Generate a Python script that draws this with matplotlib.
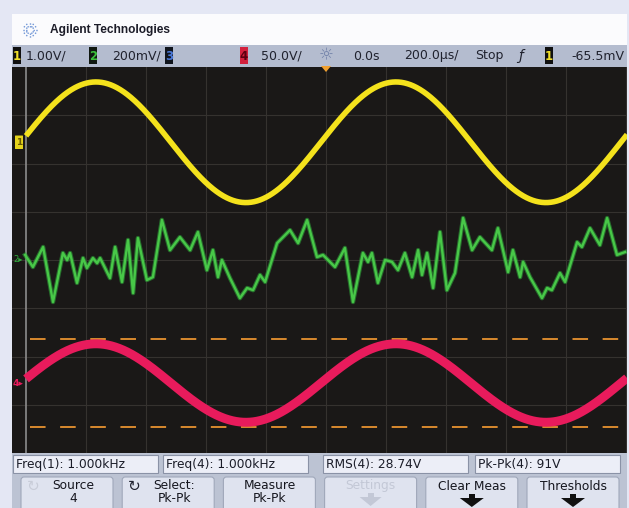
import numpy as np
import matplotlib
matplotlib.use("Agg")
import matplotlib.pyplot as plt
from matplotlib.patches import Rectangle, FancyBboxPatch, Polygon

W, H = 629, 508

# scope setup as shown on the status line
ch1_scale = 1.00        # V/div
ch2_scale = 0.200       # V/div
ch4_scale = 50.0        # V/div
time_scale = 0.2        # ms/div
trig_level_mv = -65.5

# measurements
freq_khz = [1.000, 1.000]     # Freq(1), Freq(4)
rms4 = 28.74                  # V
pkpk4 = 91.0                  # V

# channel 1 / 4 amplitude and vertical position (div)
ch1_amp = 1.25
ch1_pos = 2.44
ch4_pos = -2.55
ch2_pos = 0.02
t_zero = -0.017               # ms, rising zero crossing near trigger

# channel 2 trace (ms, mV)
ch2_t = [-1.003, -0.977, -0.943, -0.910, -0.877, -0.863, -0.853, -0.830, -0.810, -0.797,
         -0.777, -0.763, -0.753, -0.720, -0.703, -0.680, -0.660, -0.643, -0.627, -0.597,
         -0.577, -0.547, -0.520, -0.487, -0.453, -0.427, -0.397, -0.377, -0.360, -0.347,
         -0.320, -0.287, -0.263, -0.243, -0.220, -0.203, -0.163, -0.143, -0.120, -0.093,
         -0.063, -0.030, -0.010, 0.030, 0.063, 0.090, 0.123, 0.140, 0.153, 0.173,
         0.197, 0.220, 0.240, 0.263, 0.287, 0.307, 0.320, 0.337, 0.357, 0.380,
         0.403, 0.430, 0.457, 0.487, 0.513, 0.553, 0.573, 0.607, 0.623, 0.647,
         0.657, 0.680, 0.720, 0.737, 0.753, 0.780, 0.797, 0.837, 0.853, 0.880,
         0.913, 0.937, 0.970, 0.997]
ch2_mv = [17, -33, 50, -178, 25, -4, 25, -99, 4, -37,
          4, -17, 4, -79, 50, -95, 79, -141, 87, -87,
          -75, 162, 37, 91, 37, 112, -46, 37, -75, -4,
          -79, -162, -120, -129, -66, -95, 66, 91, 120, 66,
          162, 8, 17, -33, 46, -178, 25, -12, 25, -99,
          -4, -12, -46, 25, -75, 37, -66, 25, -120, 112,
          -129, -58, 170, 37, 91, 37, 128, -54, 37, -75,
          -12, -75, -162, -120, -129, -58, -95, 70, 50, 128,
          58, 170, 17, 29]

status_items = [("1.00V/", 26, "left"), ("200mV/", 112, "left"), ("50.0V/", 261, "left"),
                ("0.0s", 353, "left"), ("200.0µs/", 404, "left"), ("Stop", 475, "left"),
                ("%.1fmV" % trig_level_mv, 624, "right")]
meas_labels = ["Freq(1): %.3fkHz" % freq_khz[0], "Freq(4): %.3fkHz" % freq_khz[1],
               "RMS(4): %.2fV" % rms4, "Pk-Pk(4): %.0fV" % pkpk4]
softkeys = [("Source\n4", "src"), ("Select:\nPk-Pk", "sel"), ("Measure\nPk-Pk", None),
            ("Settings", "off"), ("Clear Meas", "down"), ("Thresholds", "down")]

UI_FONT = ["DejaVu Sans"]


def frect(x0, y0, x1, y1):
    return [x0 / W, 1 - y1 / H, (x1 - x0) / W, (y1 - y0) / H]


fig = plt.figure(figsize=(W / 100, H / 100), dpi=100)
fig.patch.set_facecolor("#e4e7f4")

ui = fig.add_axes([0, 0, 1, 1])
ui.set_xlim(0, W)
ui.set_ylim(H, 0)
ui.axis("off")

# header with logo
ui.add_patch(Rectangle((12, 14), 615, 31, fc="#fbfbfd", ec="none"))
for k in range(12):
    a = k * np.pi / 6
    ui.plot([30 + 3 * np.cos(a), 30 + 8 * np.cos(a)], [30 + 3 * np.sin(a), 30 + 8 * np.sin(a)],
            color="#6f95d6", lw=1.0, ls=(0, (1, 1)))
ui.text(50, 30, "Agilent Technologies", fontsize=8.6, fontweight="bold", color="#1c1c28",
        va="center", ha="left", family=["Liberation Sans", "DejaVu Sans"])

# status line
ui.add_patch(Rectangle((12, 45), 615, 22, fc="#b4bccf", ec="none"))
for x0, fc, tc, lab in [(13, "#101010", "#f2e02a", "1"), (89, "#101810", "#3cc03c", "2"),
                        (165, "#10141c", "#4a78d8", "3"), (240, "#d3203c", "#5a0010", "4"),
                        (545, "#101010", "#f2e02a", "1")]:
    ui.add_patch(Rectangle((x0, 47), 8, 17, fc=fc, ec="none"))
    ui.text(x0 + 4, 56, lab, fontsize=8.5, color=tc, ha="center", va="center",
            fontweight="bold", family=UI_FONT)
for txt, x, ha in status_items:
    ui.text(x, 56, txt, fontsize=9, color="#20222e", ha=ha, va="center", family=UI_FONT)
ui.text(326, 55, "☼", fontsize=12, color="#7080a8", ha="center", va="center", family=UI_FONT)
ui.text(521, 56, "ƒ", fontsize=10, color="#20222e", ha="center", va="center",
        style="italic", family=UI_FONT)

# measurement line
ui.add_patch(Rectangle((12, 453), 615, 21, fc="#bcc3d3", ec="none"))
for lab, x0 in zip(meas_labels, [13, 163, 323, 475]):
    ui.add_patch(Rectangle((x0, 455), 145, 18, fc="#eceef7", ec="#8a92a6", lw=0.8))
    ui.text(x0 + 3, 464.5, lab, fontsize=8.8, color="#1a1c28", ha="left", va="center",
            family=UI_FONT)

# softkeys
ui.add_patch(Rectangle((12, 474), 615, 34, fc="#bcc3d3", ec="none"))
for i, (lab, kind) in enumerate(softkeys):
    x0 = 21 + i * 101.2
    ui.add_patch(FancyBboxPatch((x0, 477), 92, 40, boxstyle="round,pad=0,rounding_size=3",
                                fc="#dfe3ef", ec="#a0a8ba", lw=0.8))
    cx = x0 + 46
    if kind == "off":
        ui.text(cx, 486, lab, fontsize=8.8, color="#c3c8d6", ha="center", va="center",
                family=UI_FONT)
        ui.add_patch(Polygon([[cx - 11, 497], [cx + 11, 497], [cx, 506]], fc="#c3c8d6", ec="none"))
        ui.add_patch(Rectangle((cx - 3, 493), 6, 5, fc="#c3c8d6", ec="none"))
    elif kind == "down":
        ui.text(cx, 486, lab, fontsize=8.8, color="#15161e", ha="center", va="center",
                family=UI_FONT)
        ui.add_patch(Polygon([[cx - 12, 498], [cx + 12, 498], [cx, 507]], fc="#101010", ec="none"))
        ui.add_patch(Rectangle((cx - 3, 494), 6, 5, fc="#101010", ec="none"))
    else:
        tx = cx + (6 if kind else 0)
        ui.text(tx, 492, lab, fontsize=8.8, color="#15161e", ha="center", va="center",
                linespacing=0.95, family=UI_FONT)
        if kind:
            ui.text(x0 + 12, 486, "↻", fontsize=11, ha="center", va="center",
                    color="#c8ccd8" if kind == "src" else "#202230", family=UI_FONT)

# scope screen
sc = fig.add_axes(frect(12, 67, 627, 453))
sc.set_facecolor("#1a1817")
x_left = -1.0 - 14 / 300
sc.set_xlim(x_left, 1.0 + 1 / 300)
sc.set_ylim(-4, 4)
sc.set_xticks([])
sc.set_yticks([])
for s in sc.spines.values():
    s.set_visible(False)

for k in range(-4, 6):
    sc.axvline(k * time_scale, color="#35322f", lw=0.8, zorder=1)
for k in range(-3, 4):
    sc.axhline(k, color="#35322f", lw=0.8, zorder=1)
sc.axvline(-5 * time_scale, color="#8c8c8c", lw=1.2, zorder=2)

t = np.linspace(-1.0, 1.0 + 1 / 300, 1200)
ph = 2 * np.pi * (t - t_zero)

# channel 4 cursors at the measured peak-to-peak level
for v in (pkpk4 / 2, -pkpk4 / 2):
    sc.axhline(ch4_pos + v / ch4_scale, xmin=0.03, color="#d98a2e", lw=1.4,
               ls=(0, (8, 7.5)), zorder=3)

ch1 = ch1_amp * np.sin(ph * freq_khz[0])
sc.plot(t, ch1_pos + ch1 / ch1_scale, color="#f4e21c", lw=4.0, solid_capstyle="butt", zorder=5)

ch4 = rms4 * np.sqrt(2) * np.sin(ph * freq_khz[1])
sc.plot(t, ch4_pos + ch4 / ch4_scale, color="#e81b5c", lw=6.4, solid_capstyle="butt", zorder=5)

ch2 = ch2_pos + np.array(ch2_mv) / 1000 / ch2_scale
sc.plot(ch2_t, ch2, color="#2fa33a", lw=3.2, alpha=0.6, zorder=4)
sc.plot(ch2_t, ch2, color="#48c848", lw=1.7, zorder=5)

# ground markers on the left edge
mx = x_left + 6 / 300
sc.add_patch(FancyBboxPatch((x_left + 3 / 300, ch1_pos - 0.14), 8 / 300, 0.28,
                            boxstyle="round,pad=0,rounding_size=0.004", fc="#e6d41c",
                            ec="none", zorder=6))
sc.text(mx + 1 / 300, ch1_pos, "1", fontsize=6.5, color="#6a5a00", ha="center", va="center",
        fontweight="bold", zorder=7, family=UI_FONT)
sc.text(mx, ch2_pos, "2▸", fontsize=6, color="#2fae3c", ha="center", va="center",
        zorder=7, family=UI_FONT)
sc.text(mx, ch4_pos, "4▸", fontsize=6.5, color="#e81b5c", ha="center", va="center",
        fontweight="bold", zorder=7, family=UI_FONT)

# trigger position marker drawn above the screen edge
ui.set_zorder(0)
sc.set_zorder(1)
ax_top = fig.add_axes([0, 0, 1, 1])
ax_top.set_xlim(0, W)
ax_top.set_ylim(H, 0)
ax_top.axis("off")
ax_top.add_patch(Polygon([[321, 66], [331, 66], [326, 72]], fc="#f0a030", ec="none"))
ax_top.set_zorder(2)

fig.savefig("out.png", dpi=100, facecolor=fig.get_facecolor())
